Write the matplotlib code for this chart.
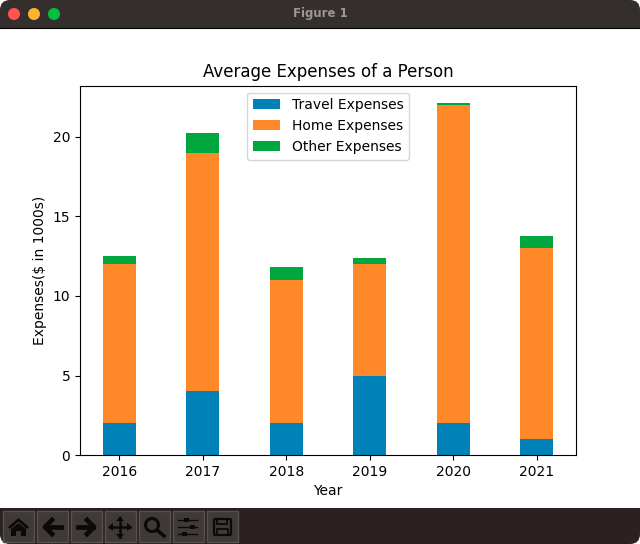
from matplotlib import pyplot as plt
from matplotlib.patches import Circle, FancyBboxPatch, Polygon, Rectangle
import numpy as np

years = ['2016', '2017', '2018', '2019', '2020', '2021']
travel = [2, 4, 2, 5, 2, 1]
home = [10, 15, 9, 7, 20, 12]
other = [0.5, 1.25, 0.8, 0.4, 0.1, 0.75]

labels = ['Travel Expenses', 'Home Expenses', 'Other Expenses']
colors = ['#0081b8', '#ff8929', '#00a63e']

W, H = 640, 544


def draw_window(fig):
    # window frame, in pixel coords with y going down
    win = fig.add_axes([0, 0, 1, 1], zorder=5)
    win.set_xlim(0, W)
    win.set_ylim(H, 0)
    win.axis('off')
    win.patch.set_alpha(0)

    # rounded title bar, square at the bottom
    win.add_patch(FancyBboxPatch((0, 0), W, 40, boxstyle='round,pad=0,rounding_size=10',
                                 fc='#342e2c', ec='none', clip_on=True))
    win.add_patch(Rectangle((0, 28), W, 14, fc='white', ec='none'))
    win.plot([0, W], [28, 28], color='black', lw=0.8)
    for x, c in zip([14, 34, 54], ['#ff5350', '#ffb32e', '#00c13f']):
        win.add_patch(Circle((x, 14), 6, fc=c, ec='none'))
    win.text(320, 14, 'Figure 1', color='#9b9795', fontsize=8.5, fontweight='bold',
             ha='center', va='center')

    win.add_patch(FancyBboxPatch((0, 496), W, 48, boxstyle='round,pad=0,rounding_size=10',
                                 fc='#2a2120', ec='none'))
    win.add_patch(Rectangle((0, 495), W, 13, fc='white', ec='none'))
    for i in range(7):
        win.add_patch(Rectangle((2.5 + 34 * i, 510.5), 31, 31, fc='#3f3a38', ec='#575250', lw=1))

    ink = '#0a0a0a'
    # home
    win.add_patch(Polygon([(8, 527), (18.5, 518), (29, 527), (27, 529), (18.5, 521.5), (10, 529)], fc=ink))
    win.add_patch(Polygon([(11, 529), (18.5, 523), (26, 529), (26, 536), (21, 536), (21, 531),
                           (16, 531), (16, 536), (11, 536)], fc=ink))
    # back and forward
    win.plot([46, 61], [527, 527], color=ink, lw=3.4)
    win.plot([52, 45, 52], [520, 527, 534], color=ink, lw=3.4)
    win.plot([78, 93], [527, 527], color=ink, lw=3.4)
    win.plot([87, 94, 87], [520, 527, 534], color=ink, lw=3.4)
    # pan
    win.plot([110, 130], [527, 527], color=ink, lw=1.8)
    win.plot([120, 120], [518, 537], color=ink, lw=1.8)
    win.add_patch(Polygon([(108, 527), (113, 523), (113, 531)], fc=ink))
    win.add_patch(Polygon([(132, 527), (127, 523), (127, 531)], fc=ink))
    win.add_patch(Polygon([(120, 516), (116, 521), (124, 521)], fc=ink))
    win.add_patch(Polygon([(120, 539), (116, 534), (124, 534)], fc=ink))
    # zoom
    win.add_patch(Circle((152, 525), 6.5, fc='none', ec=ink, lw=2.2))
    win.plot([157, 164], [530, 536], color=ink, lw=2.6)
    # sliders
    for y, x in zip([520, 527, 534], [186, 192, 184]):
        win.plot([178, 197], [y, y], color=ink, lw=1)
        win.add_patch(Rectangle((x - 2.5, y - 2), 5, 4, fc=ink))
    # save
    win.add_patch(FancyBboxPatch((214, 519), 17, 16, boxstyle='round,pad=0,rounding_size=1.5',
                                 fc='none', ec=ink, lw=1.6))
    win.add_patch(Rectangle((217, 519), 10, 5, fc='none', ec=ink, lw=1.3))
    win.add_patch(Rectangle((217, 529), 11, 6, fc='none', ec=ink, lw=1.3))


if __name__ == '__main__':
    fig = plt.figure(figsize=(W / 100, H / 100), dpi=100, facecolor='white')
    ax = fig.add_axes([80 / W, (H - 455.2) / H, 496 / W, 369.6 / H])

    x = np.arange(len(years))
    width = 0.4
    travel_arr = np.array(travel)
    home_arr = np.array(home)
    other_arr = np.array(other)

    ax.bar(x, travel_arr, width, color=colors[0], label=labels[0])
    ax.bar(x, home_arr, width, bottom=travel_arr, color=colors[1], label=labels[1])
    ax.bar(x, other_arr, width, bottom=travel_arr + home_arr, color=colors[2], label=labels[2])

    ax.set_xticks(x, years)
    ax.set_xlabel('Year')
    ax.set_ylabel('Expenses($ in 1000s)')
    ax.set_title('Average Expenses of a Person')
    ax.legend(loc='upper center')

    draw_window(fig)
    fig.savefig('out.png', dpi=100)
